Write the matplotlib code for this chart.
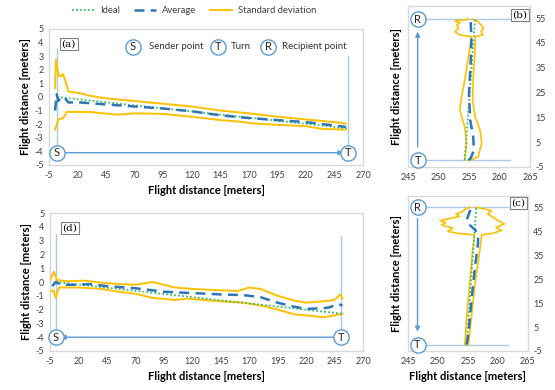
import matplotlib
matplotlib.use("Agg")
import matplotlib.pyplot as plt
from matplotlib.lines import Line2D

plt.rcParams["font.family"] = ["Lato", "DejaVu Sans"]
plt.rcParams["axes.unicode_minus"] = False

# ---- panel (a): sender -> turn ----
a_x_avg = [0.3, 1.7, 3.2, 5.2, 9, 12, 22, 45, 70, 95, 120, 145, 170, 195, 220, 245, 255]
a_avg = [-1.0, 0.2, -0.3, 0.0, -0.1, -0.4, -0.4, -0.55, -0.7, -0.85, -1.05, -1.35, -1.55, -1.7, -1.85, -2.1, -2.2]
a_x_ideal = [2, 256]
a_ideal = [0.0, -2.3]
a_x_up = [0.3, 1.1, 3.2, 5.2, 7, 9, 10.5, 11.9, 22, 30, 45, 70, 95, 120, 145, 170, 195, 220, 245, 255]
a_up = [0.65, 2.75, 1.6, 1.5, 1.7, 1.3, 0.85, 0.4, 0.28, 0.1, -0.1, -0.3, -0.5, -0.7, -1.0, -1.2, -1.45, -1.65, -1.85, -1.95]
a_x_lo = [0.3, 3.2, 7.5, 10.5, 16, 30, 55, 70, 95, 120, 145, 160, 175, 195, 220, 235, 255]
a_lo = [-2.4, -1.65, -1.55, -1.1, -1.1, -1.1, -1.3, -1.2, -1.25, -1.45, -1.7, -1.8, -1.95, -2.05, -2.15, -2.35, -2.4]

# ---- panel (d): turn -> sender (return) ----
d_x_avg = [-3, 0, 5, 20, 30, 45, 70, 85, 95, 105, 120, 145, 165, 180, 195, 210, 220, 235, 240, 248, 252]
d_avg = [-0.3, 0.0, -0.2, -0.2, -0.15, -0.3, -0.45, -0.6, -0.7, -0.75, -0.8, -0.9, -0.95, -1.1, -1.5, -1.8, -1.95, -1.9, -1.85, -1.6, -1.7]
d_x_ideal = [0, 252]
d_ideal = [0.0, -2.3]
d_x_up = [-5, -1.5, 1, 10, 25, 40, 55, 70, 85, 95, 105, 120, 145, 160, 170, 180, 195, 210, 220, 235, 245, 250, 252]
d_up = [0.15, 0.75, 0.15, 0.05, 0.1, -0.05, -0.15, -0.2, 0.0, -0.2, -0.4, -0.5, -0.6, -0.65, -0.4, -0.5, -1.0, -1.35, -1.5, -1.4, -1.3, -0.9, -1.2]
d_x_lo = [-5, -2, 0, 3, 20, 40, 55, 70, 85, 105, 115, 130, 145, 165, 180, 195, 210, 225, 235, 240, 252]
d_lo = [-0.7, -0.6, -1.15, -0.4, -0.4, -0.5, -0.7, -0.85, -1.15, -1.3, -1.2, -1.3, -1.4, -1.5, -1.7, -2.0, -2.35, -2.45, -2.55, -2.5, -2.3]

# ---- panel (b): turn -> recipient (x = lateral, y = along track) ----
b_y_avg = [-2.2, -1.4, 1.8, 7.2, 13.9, 24.7, 38.1, 47.5, 52, 54.5]
b_avg = [254.9, 255.3, 255.8, 255.7, 255.2, 255.0, 255.3, 255.4, 255.3, 255.3]
b_y_ideal = [-2.2, 54.5]
b_ideal = [254.3, 256.0]
b_y_left = [-2.2, 4.7, 11.2, 17.9, 21.9, 31.4, 42.1, 47.5, 48.2, 49.5, 50.8, 52.2, 53.0, 53.8, 54.5]
b_left = [254.3, 254.6, 254.3, 253.5, 253.7, 254.4, 255.1, 255.4, 253.5, 252.7, 253.3, 253.0, 253.5, 252.7, 254.9]
b_y_right = [-2.2, -0.9, 4.7, 9.9, 15.3, 21.9, 31.4, 42.1, 47.5, 48.2, 49.5, 50.8, 52.2, 53.5, 54.5]
b_right = [255.3, 256.5, 257.1, 256.8, 256.0, 255.6, 255.7, 256.0, 256.0, 257.3, 257.0, 257.4, 257.0, 256.5, 255.6]

# ---- panel (c): recipient -> turn (return) ----
c_y_avg = [-2.3, 2.4, 16.4, 30.4, 40.2, 43.7, 45.8, 47.9, 50.0, 52.8, 55.3]
c_avg = [254.8, 255.1, 255.6, 256.2, 256.7, 256.7, 256.2, 255.3, 254.8, 255.2, 255.6]
c_y_ideal = [-2.3, 55.3]
c_ideal = [254.8, 256.4]
c_y_left = [-2.3, 9.4, 23.4, 37.4, 43.7, 44.4, 45.2, 46.5, 47.9, 48.8, 49.7, 50.7, 51.4, 52.5, 53.5, 54.4, 55.3]
c_left = [254.5, 254.8, 255.3, 255.8, 256.1, 253.1, 251.7, 252.5, 250.6, 251.3, 250.4, 252.2, 253.6, 253.0, 254.2, 254.5, 255.3]
c_y_right = [-2.3, 9.4, 23.4, 37.4, 43.7, 44.4, 45.5, 46.9, 48.3, 49.7, 51.1, 52.5, 53.9, 55.3]
c_right = [255.1, 255.6, 256.2, 257.0, 257.3, 259.2, 260.6, 259.7, 261.1, 260.0, 259.2, 258.3, 258.9, 256.4]

long_ticks = list(range(-5, 271, 25))
long_yticks = list(range(-5, 6))
side_xticks = [245, 250, 255, 260, 265]
side_yticks = list(range(-5, 56, 10))

C_IDEAL = "#3dbb6a"
C_AVG = "#2e75b6"
C_STD = "#ffc000"
C_GUIDE = "#a9cbe8"
C_ARROW = "#5b9bd5"
C_FRAME = "#d9d9d9"


def style_axes(ax):
    for s in ax.spines.values():
        s.set_color(C_FRAME)
        s.set_linewidth(1.0)
    ax.tick_params(length=0, labelsize=6.5, colors="#404040", pad=4)


def circle(ax, x, y, letter, size=11, fs=8):
    ax.plot(x, y, "o", ms=size, mfc="white", mec=C_ARROW, mew=1.0, zorder=6,
            clip_on=False)
    ax.text(x, y, letter, ha="center", va="center", fontsize=fs,
            color="#222222", zorder=7, clip_on=False)


def tag(ax, x, y, s, ha="left"):
    ax.text(x, y, s, ha=ha, va="center", fontsize=7.5, family="DejaVu Serif",
            bbox=dict(boxstyle="square,pad=0.15", fc="white", ec="#808080", lw=0.8),
            zorder=8)


def arrow(ax, x0, y0, x1, y1):
    ax.annotate("", xy=(x1, y1), xytext=(x0, y0),
                arrowprops=dict(arrowstyle="-|>", color=C_ARROW, lw=1.0,
                                mutation_scale=7, shrinkA=0, shrinkB=0),
                zorder=4)


fig = plt.figure(figsize=(5.55, 3.9), dpi=100)

ax_a = fig.add_axes([0.0883, 0.577, 0.5657, 0.3487])
ax_d = fig.add_axes([0.090, 0.100, 0.564, 0.3538])
ax_b = fig.add_axes([0.735, 0.5718, 0.220, 0.4138])
ax_c = fig.add_axes([0.735, 0.100, 0.216, 0.3974])

# horizontal panels
for ax, xi, yi, xa, ya, xu, yu, xl, yl in [
    (ax_a, a_x_ideal, a_ideal, a_x_avg, a_avg, a_x_up, a_up, a_x_lo, a_lo),
    (ax_d, d_x_ideal, d_ideal, d_x_avg, d_avg, d_x_up, d_up, d_x_lo, d_lo),
]:
    ax.plot(xu, yu, color=C_STD, lw=1.4, zorder=3)
    ax.plot(xl, yl, color=C_STD, lw=1.4, zorder=3)
    ax.plot(xi, yi, color=C_IDEAL, lw=1.3, ls=(0, (1, 1.2)), zorder=4)
    ax.plot(xa, ya, color=C_AVG, lw=1.8, ls=(0, (4, 2.5)), zorder=5)
    ax.set_xlim(-5, 270)
    ax.set_ylim(-5, 5)
    ax.set_xticks(long_ticks)
    ax.set_yticks(long_yticks)
    ax.set_xlabel("Flight distance [meters]", fontsize=8, fontweight="bold", labelpad=4)
    ax.set_ylabel("Flight distance [meters]", fontsize=8, fontweight="bold", labelpad=3)
    style_axes(ax)

# guides (a)
ax_a.plot([1.7, 1.7], [-4.1, 3.6], color=C_GUIDE, lw=1.0, zorder=2)
ax_a.plot([257, 257], [-4.1, 3.0], color=C_GUIDE, lw=1.0, zorder=2)
arrow(ax_a, 1.7, -4.1, 253, -4.1)
circle(ax_a, 1.7, -4.1, "S")
circle(ax_a, 257, -4.1, "T")
tag(ax_a, 6, 3.9, "(a)")
circle(ax_a, 68.6, 3.7, "S")
ax_a.text(82.6, 3.7, "Sender point", fontsize=7, va="center", color="#333333")
circle(ax_a, 143, 3.7, "T")
ax_a.text(154.7, 3.7, "Turn", fontsize=7, va="center", color="#333333")
circle(ax_a, 186.8, 3.7, "R")
ax_a.text(199.4, 3.7, "Recipient point", fontsize=7, va="center", color="#333333")

# guides (d)
ax_d.plot([0.3, 0.3], [-4.0, 3.5], color=C_GUIDE, lw=1.0, zorder=2)
ax_d.plot([251, 251], [-4.0, 3.3], color=C_GUIDE, lw=1.0, zorder=2)
arrow(ax_d, 251, -4.0, 4.5, -4.0)
circle(ax_d, 0.3, -4.0, "S")
circle(ax_d, 251, -4.0, "T")
tag(ax_d, 6, 3.9, "(d)")

# vertical panels
for ax, yi, xi, ya, xa, yl, xl, yr, xr in [
    (ax_b, b_y_ideal, b_ideal, b_y_avg, b_avg, b_y_left, b_left, b_y_right, b_right),
    (ax_c, c_y_ideal, c_ideal, c_y_avg, c_avg, c_y_left, c_left, c_y_right, c_right),
]:
    ax.plot(xl, yl, color=C_STD, lw=1.2, zorder=3)
    ax.plot(xr, yr, color=C_STD, lw=1.2, zorder=3)
    ax.plot(xi, yi, color=C_IDEAL, lw=1.3, ls=(0, (1, 1.2)), zorder=4)
    ax.plot(xa, ya, color=C_AVG, lw=1.8, ls=(0, (4, 2.5)), zorder=5)
    ax.set_xlim(245, 265)
    ax.set_ylim(-5, 60)
    ax.set_xticks(side_xticks)
    ax.set_yticks(side_yticks)
    ax.yaxis.tick_right()
    ax.yaxis.set_label_position("left")
    ax.set_ylabel("Flight distance [meters]", fontsize=8, fontweight="bold", labelpad=4)
    style_axes(ax)

ax_c.set_xlabel("Flight distance [meters]", fontsize=8, fontweight="bold", labelpad=4)

# guides (b)
ax_b.plot([246.6, 261.7], [54.5, 54.5], color=C_GUIDE, lw=1.0, zorder=2)
ax_b.plot([246.6, 261.7], [-2.2, -2.2], color=C_GUIDE, lw=1.0, zorder=2)
arrow(ax_b, 246.6, 3.1, 246.6, 49.5)
circle(ax_b, 246.6, 54.5, "R")
circle(ax_b, 246.6, -2.2, "T")
tag(ax_b, 264.6, 56.3, "(b)", ha="right")

# guides (c)
ax_c.plot([246.6, 261.7], [55.3, 55.3], color=C_GUIDE, lw=1.0, zorder=2)
ax_c.plot([246.6, 261.7], [-2.3, -2.3], color=C_GUIDE, lw=1.0, zorder=2)
arrow(ax_c, 246.6, 50.5, 246.6, 3.1)
circle(ax_c, 246.6, 55.3, "R")
circle(ax_c, 246.6, -2.3, "T")
tag(ax_c, 264.6, 57.0, "(c)", ha="right")

handles = [
    Line2D([], [], color=C_IDEAL, lw=1.3, ls=(0, (1, 1.2))),
    Line2D([], [], color=C_AVG, lw=1.8, ls=(0, (4, 2.5))),
    Line2D([], [], color=C_STD, lw=1.4),
]
fig.legend(handles, ["Ideal", "Average", "Standard deviation"], ncol=3,
           loc="center", bbox_to_anchor=(0.35, 0.972), frameon=False,
           fontsize=6.8, handlelength=2.4, columnspacing=1.4, handletextpad=0.6,
           labelcolor="#404040")

fig.savefig("out.png", dpi=100)
